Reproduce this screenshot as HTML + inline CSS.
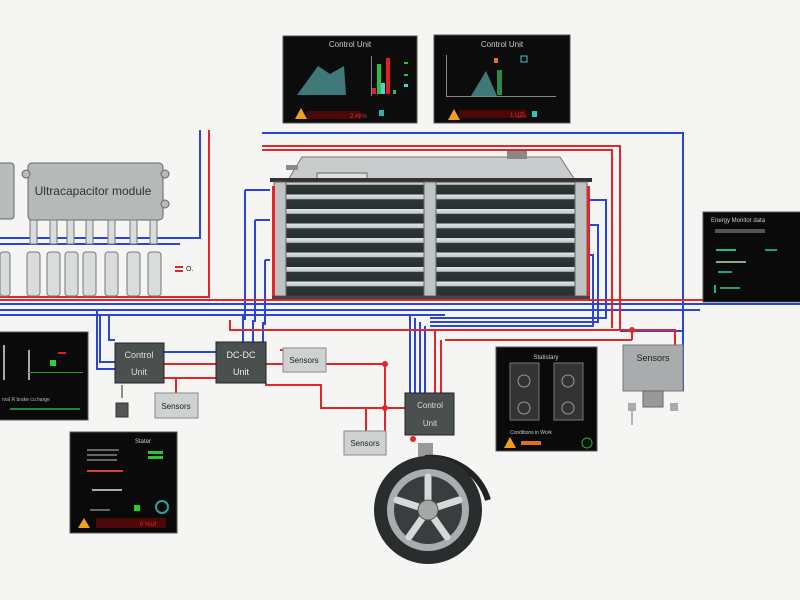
<!DOCTYPE html>
<html><head><meta charset="utf-8"><style>
html,body{margin:0;padding:0;background:#f5f5f4;}
svg{display:block;font-family:"Liberation Sans",sans-serif;}
</style></head><body>
<svg width="800" height="600" viewBox="0 0 800 600" xmlns="http://www.w3.org/2000/svg">
<rect width="800" height="600" fill="#f5f5f4"/>
<defs>
<linearGradient id="slat" x1="0" y1="0" x2="0" y2="1"><stop offset="0" stop-color="#e4e6e6"/><stop offset="0.3" stop-color="#c4c8c8"/><stop offset="0.36" stop-color="#2e3636"/><stop offset="1" stop-color="#263030"/></linearGradient>
<pattern id="slats" x="0" y="180" width="10" height="14.5" patternUnits="userSpaceOnUse"><rect width="10" height="14.5" fill="url(#slat)"/></pattern>
</defs>

<g fill="none" stroke="#2a45d8" stroke-width="2">
<path d="M262 133 H683 V331 H620"/>
<path d="M200 130 V238 H0"/>
<path d="M0 244 H180"/>
<path d="M0 304 H800"/>
<path d="M0 310 H700"/>
<path d="M0 315 H445"/>
<path d="M245 190 H270 M245 190 V320"/>
<path d="M255 220 H270 M255 220 V322"/>
<path d="M265 260 H270 M265 260 V325"/>
<path d="M590 200 H606 V318 H430"/>
<path d="M590 225 H598 V322 H430"/>
<path d="M590 255 H593 V326 H430"/>
<path d="M97 310 V350 V369 H115"/>
<path d="M100 315 V362 H115"/>
<path d="M109 316 V340 H115"/>
<path d="M243 316 V342"/>
<path d="M253 320 V342"/>
<path d="M263 322 V342"/>
<path d="M164 352 H216"/>
<path d="M410 315 V393 M415 318 V393 M420 322 V393 M425 326 V393"/>
<path d="M683 331 V390 H680"/>
</g>
<g fill="none" stroke="#e3262a" stroke-width="2">
<path d="M209 130 V297 H0"/>
<path d="M262 146 H620 V330"/>
<path d="M262 150 H612 V328"/>
<path d="M0 300 H800"/>
<path d="M230 320 V330 H630"/>
<path d="M445 340 H632"/>
<path d="M632 330 V340 M632 330 H675 V345"/>
<path d="M441 340 V393"/>
<path d="M435 330 V393"/>
<path d="M164 364 H216"/>
<path d="M164 378 H216"/>
<path d="M176 378 V393"/>
<path d="M266 364 H283"/>
<path d="M326 364 H385 V435"/>
<path d="M266 383 V385 H321 V408 H385"/>
<path d="M366 408 V431"/>
<path d="M330 408 H360 M385 408 H405"/>
<path d="M280 350 H283"/>
</g>
<circle cx="632" cy="330" r="3" fill="#e3262a"/>
<circle cx="385" cy="364" r="3" fill="#e3262a"/>
<circle cx="385" cy="408" r="3" fill="#e3262a"/>

<g>
<rect x="283" y="36" width="134" height="87" fill="#0c0c0c" stroke="#555"/>
<text x="350" y="47" font-size="8" fill="#ccc" text-anchor="middle">Control Unit</text>
<path d="M297 95 L318 66 L330 74 L344 66 L346 95 Z" fill="#3e7878"/>
<rect x="371" y="56" width="1" height="40" fill="#888"/>
<rect x="372" y="88" width="4" height="6" fill="#e02020"/>
<rect x="377" y="64" width="4" height="30" fill="#2cc040"/>
<rect x="381" y="83" width="4" height="11" fill="#50d0d0"/>
<rect x="386" y="58" width="4" height="36" fill="#e02020"/>
<rect x="393" y="90" width="3" height="4" fill="#2cc040"/>
<rect x="404" y="62" width="4" height="2" fill="#2cc040"/><rect x="404" y="74" width="4" height="2" fill="#2cc040"/><rect x="404" y="84" width="4" height="3" fill="#50d0d0"/>
<rect x="307" y="111" width="53" height="8" fill="#4a0808"/>
<text x="350" y="118" font-size="6" fill="#e03030">2 #8%</text>
<polygon points="295,119 301,108 307,119" fill="#f0a020"/>
<rect x="379" y="110" width="5" height="6" fill="#30b0b0"/>
<rect x="434" y="35" width="136" height="88" fill="#0c0c0c" stroke="#555"/>
<text x="502" y="47" font-size="8" fill="#ccc" text-anchor="middle">Control Unit</text>
<path d="M471 96 L486 71 L497 96 Z" fill="#3e7878"/>
<rect x="497" y="70" width="5" height="25" fill="#2a8a4a"/>
<rect x="494" y="58" width="4" height="5" fill="#e07030"/>
<rect x="521" y="56" width="6" height="6" fill="none" stroke="#50c0c0"/>
<rect x="446" y="55" width="1" height="42" fill="#888"/>
<rect x="446" y="96" width="110" height="1" fill="#888"/>
<rect x="459" y="110" width="68" height="8" fill="#4a0808"/>
<text x="510" y="117" font-size="6" fill="#e03030">1 ЦZL</text>
<polygon points="448,120 454,109 460,120" fill="#f0a020"/>
<rect x="532" y="111" width="5" height="6" fill="#30c0b0"/>
</g>

<g>
<path d="M288 180 L302 157 L560 157 L575 180 Z" fill="#c9cccc" stroke="#777"/>
<rect x="286" y="165" width="12" height="5" fill="#888"/>
<rect x="507" y="151" width="20" height="8" fill="#888"/>
<rect x="317" y="173" width="50" height="8" fill="#e0e0e0" stroke="#666"/>
<rect x="270" y="178" width="322" height="4" fill="#333"/>
<rect x="274" y="182" width="312" height="114" fill="url(#slats)" stroke="#444"/>
<rect x="274" y="182" width="12" height="114" fill="#bfc3c3" stroke="#666"/>
<rect x="424" y="182" width="12" height="114" fill="#bfc3c3" stroke="#666"/>
<rect x="575" y="182" width="12" height="114" fill="#bfc3c3" stroke="#666"/>
<rect x="272" y="186" width="3" height="110" fill="#e3262a"/>
<rect x="587" y="186" width="3" height="110" fill="#e3262a"/>
<rect x="272" y="296" width="318" height="3" fill="#444"/>
</g>

<g>
<rect x="-4" y="163" width="18" height="56" rx="3" fill="#b8bcbc" stroke="#666"/>
<rect x="28" y="163" width="135" height="57" rx="4" fill="#b5b9b9" stroke="#666"/>
<circle cx="26" cy="174" r="4" fill="#b5b9b9" stroke="#666"/>
<circle cx="165" cy="174" r="4" fill="#b5b9b9" stroke="#666"/>
<circle cx="165" cy="204" r="4" fill="#b5b9b9" stroke="#666"/>
<text x="93" y="195" font-size="12" fill="#333" text-anchor="middle">Ultracapacitor module</text>
<g fill="#d8dcdc" stroke="#777">
<rect x="30" y="220" width="7" height="24"/><rect x="50" y="220" width="7" height="24"/><rect x="67" y="220" width="7" height="24"/><rect x="86" y="220" width="7" height="24"/><rect x="108" y="220" width="7" height="24"/><rect x="130" y="220" width="7" height="24"/><rect x="150" y="220" width="7" height="24"/>
<rect x="0" y="252" width="10" height="44" rx="3"/>
<rect x="27" y="252" width="13" height="44" rx="3"/><rect x="47" y="252" width="13" height="44" rx="3"/><rect x="65" y="252" width="13" height="44" rx="3"/><rect x="83" y="252" width="13" height="44" rx="3"/><rect x="105" y="252" width="13" height="44" rx="3"/><rect x="127" y="252" width="13" height="44" rx="3"/><rect x="148" y="252" width="13" height="44" rx="3"/>
</g>
<rect x="175" y="266" width="8" height="2" fill="#e3262a"/><rect x="175" y="270" width="8" height="2" fill="#e3262a"/>
<text x="186" y="271" font-size="7" fill="#222">O.</text>
</g>

<g>
<rect x="-2" y="332" width="90" height="88" fill="#0a0a0a" stroke="#555"/>
<rect x="3" y="345" width="2" height="35" fill="#aaa"/><rect x="28" y="350" width="2" height="30" fill="#aaa"/>
<rect x="28" y="372" width="55" height="1" fill="#3a9a2a"/>
<rect x="50" y="360" width="6" height="6" fill="#30d030"/>
<rect x="58" y="352" width="8" height="2" fill="#e02020"/>
<text x="2" y="401" font-size="5" fill="#bbb">rval  R  brake  cu.harge</text>
<rect x="10" y="408" width="70" height="2" fill="#1a8a3a"/>
</g>

<rect x="115" y="343" width="49" height="40" fill="#4a5050" stroke="#222"/>
<text x="139" y="358" font-size="9" fill="#ddd" text-anchor="middle">Control</text>
<text x="139" y="375" font-size="9" fill="#ddd" text-anchor="middle">Unit</text>
<rect x="216" y="342" width="50" height="41" fill="#4a5050" stroke="#222"/>
<text x="241" y="358" font-size="9" fill="#eee" text-anchor="middle">DC-DC</text>
<text x="241" y="375" font-size="9" fill="#eee" text-anchor="middle">Unit</text>
<rect x="283" y="348" width="43" height="24" fill="#cfd2d2" stroke="#888"/>
<text x="304" y="363" font-size="8" fill="#222" text-anchor="middle">Sensors</text>
<rect x="155" y="393" width="43" height="25" fill="#cfd2d2" stroke="#888"/>
<text x="176" y="409" font-size="8" fill="#222" text-anchor="middle">Sensors</text>
<rect x="116" y="403" width="12" height="14" fill="#555" stroke="#333"/>
<path d="M122 385 V398" stroke="#222"/>

<g>
<rect x="70" y="432" width="107" height="101" fill="#0a0a0a" stroke="#555"/>
<text x="135" y="443" font-size="6" fill="#ccc">Stater</text>
<rect x="87" y="449" width="32" height="2" fill="#666"/><rect x="87" y="454" width="30" height="2" fill="#666"/><rect x="87" y="459" width="30" height="2" fill="#666"/>
<rect x="148" y="451" width="15" height="3" fill="#30c040"/><rect x="148" y="456" width="15" height="3" fill="#30c040"/>
<rect x="87" y="470" width="36" height="2" fill="#d04040"/>
<rect x="92" y="489" width="30" height="2" fill="#aaa"/>
<rect x="90" y="509" width="20" height="2" fill="#666"/>
<rect x="134" y="505" width="6" height="6" fill="#20d020"/>
<circle cx="162" cy="507" r="6" fill="none" stroke="#30a0a0" stroke-width="2"/>
<rect x="96" y="518" width="70" height="10" fill="#4a0808"/>
<text x="140" y="526" font-size="6" fill="#e03030">0 %UI</text>
<polygon points="78,528 84,518 90,528" fill="#f0a020"/>
</g>

<rect x="405" y="393" width="49" height="42" fill="#4a5050" stroke="#222"/>
<text x="430" y="408" font-size="8" fill="#ddd" text-anchor="middle">Control</text>
<text x="430" y="426" font-size="8" fill="#ddd" text-anchor="middle">Unit</text>
<rect x="344" y="431" width="42" height="24" fill="#cfd2d2" stroke="#888"/>
<text x="365" y="446" font-size="8" fill="#222" text-anchor="middle">Sensors</text>
<circle cx="413" cy="439" r="3" fill="#e3262a"/>
<rect x="418" y="443" width="15" height="15" fill="#999"/>
<path d="M425 458 A60 60 0 0 1 488 500" stroke="#222" stroke-width="6" fill="none"/>
<circle cx="428" cy="510" r="54" fill="#2a2d2d"/>
<circle cx="428" cy="510" r="41" fill="#a9adad"/>
<circle cx="428" cy="510" r="34" fill="#3a3d3d"/>
<g stroke="#d6d9d9" stroke-width="7" stroke-linecap="round">
<path d="M428 510 L428 477"/><path d="M428 510 L459 500"/><path d="M428 510 L447 537"/><path d="M428 510 L409 537"/><path d="M428 510 L397 500"/>
</g>
<circle cx="428" cy="510" r="10" fill="#a4a8a8" stroke="#555"/>

<g>
<rect x="496" y="347" width="101" height="104" fill="#0a0a0a" stroke="#555"/>
<text x="546" y="359" font-size="6" fill="#ccc" text-anchor="middle">Statistary</text>
<rect x="510" y="363" width="29" height="57" fill="#333" stroke="#777"/>
<rect x="554" y="363" width="29" height="57" fill="#333" stroke="#777"/>
<circle cx="524" cy="381" r="6" fill="none" stroke="#999"/><circle cx="524" cy="408" r="6" fill="none" stroke="#999"/>
<circle cx="568" cy="381" r="6" fill="none" stroke="#999"/><circle cx="568" cy="408" r="6" fill="none" stroke="#999"/>
<text x="510" y="434" font-size="5" fill="#ccc">Conditions in Work</text>
<polygon points="504,448 510,437 516,448" fill="#f0a020"/>
<rect x="521" y="441" width="20" height="4" fill="#e07020"/>
<circle cx="587" cy="443" r="5" fill="none" stroke="#20b040"/>
</g>

<rect x="623" y="345" width="60" height="46" fill="#a8acac" stroke="#777"/>
<text x="653" y="361" font-size="9" fill="#222" text-anchor="middle">Sensors</text>
<rect x="643" y="391" width="20" height="16" fill="#999" stroke="#666"/>
<rect x="628" y="403" width="8" height="8" fill="#aaa"/><rect x="670" y="403" width="8" height="8" fill="#aaa"/>
<path d="M632 411 V425" stroke="#777"/>

<g>
<rect x="703" y="212" width="100" height="90" fill="#0a0a0a" stroke="#555"/>
<text x="711" y="222" font-size="6" fill="#ccc">Energy  Monitor data</text>
<rect x="715" y="229" width="50" height="4" fill="#555"/>
<rect x="716" y="249" width="20" height="2" fill="#20c080"/><rect x="765" y="249" width="12" height="2" fill="#20a070"/>
<rect x="716" y="261" width="30" height="2" fill="#8a8"/>
<rect x="718" y="271" width="14" height="2" fill="#20a080"/>
<rect x="714" y="285" width="2" height="8" fill="#20b060"/>
<rect x="720" y="287" width="20" height="2" fill="#20a070"/>
</g>
</svg>
</body></html>
